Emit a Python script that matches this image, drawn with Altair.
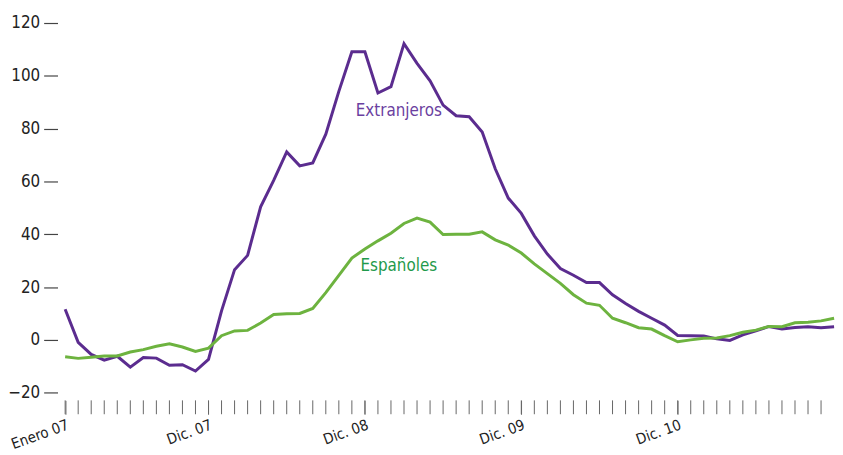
import altair as alt
import pandas as pd

# Monthly index: 0 = Enero 2007 ... 59 = Diciembre 2011
extranjeros = [11.6, -0.9, -5.5, -7.7, -6.2, -10.3, -6.7, -6.9, -9.6, -9.4,
               -11.8, -7.4, 11.0, 26.6, 32.0, 50.4, 60.4, 71.2, 65.9, 67.0,
               77.9, 94.1, 109.1, 109.1, 93.5, 95.9, 112.2, 104.7, 98.1, 88.9,
               84.9, 84.5, 78.7, 64.8, 53.7, 47.9, 39.4, 32.5, 27.0, 24.5,
               21.7, 21.7, 17.1, 13.8, 10.8, 8.2, 5.6, 1.7, 1.6, 1.5,
               0.4, -0.2, 1.9, 3.4, 5.1, 4.1, 4.7, 5.0, 4.6, 5.0]
espanoles = [-6.4, -7.0, -6.6, -6.1, -6.1, -4.6, -3.7, -2.4, -1.5, -2.7,
             -4.4, -3.1, 1.6, 3.4, 3.6, 6.4, 9.6, 9.9, 10.0, 11.9,
             17.9, 24.4, 31.0, 34.4, 37.5, 40.4, 44.1, 46.1, 44.6, 39.9,
             40.0, 40.0, 40.9, 37.9, 35.9, 32.9, 28.8, 25.1, 21.4, 17.1,
             13.9, 13.1, 8.2, 6.5, 4.6, 4.1, 1.6, -0.7, 0.0, 0.6,
             0.7, 1.6, 2.9, 3.7, 5.1, 5.0, 6.5, 6.7, 7.2, 8.2]

series_names = ["Extranjeros", "Españoles"]
series_colors = ["#5b2c8f", "#6db33f"]

tick_months = list(range(59))
label_months = [0, 11, 23, 35, 47]
label_texts = ["Enero 07", "Dic. 07", "Dic. 08", "Dic. 09", "Dic. 10"]

y_ticks = [-20, 0, 20, 40, 60, 80, 100, 120]

annot_text = ["Extranjeros", "Españoles"]
annot_month = [25.6, 25.6]
annot_value = [86.6, 28.1]
annot_colors = ["#6b3fa0", "#1f9a4b"]

FONT = "DejaVu Sans Condensed, DejaVu Sans, sans-serif"

PLOT_W = 785
PLOT_H = 381

rows = []
for name, vals in zip(series_names, [extranjeros, espanoles]):
    for i, v in enumerate(vals):
        rows.append({"m": i, "v": v, "serie": name})
df = pd.DataFrame(rows)

ann = pd.DataFrame({"t": annot_text, "m": annot_month, "v": annot_value})
ticks_df = pd.DataFrame({"m": tick_months})

expr = "''"
for m, t in reversed(list(zip(label_months, label_texts))):
    expr = f"datum.value == {m} ? '{t}' : ({expr})"

xscale = alt.Scale(domain=[-0.585, 59.07], nice=False, zero=False)
yscale = alt.Scale(domain=[-22.9, 120], nice=False, zero=False)

xaxis = alt.Axis(values=label_months, domain=False, grid=False, tickSize=14,
                 tickColor="#666666", tickWidth=1, labelExpr=expr,
                 labelAngle=-20, labelAlign="right", labelBaseline="top",
                 labelPadding=3, labelFontSize=15, labelColor="#222222",
                 labelOverlap=False, labelFlush=False, title=None)
yaxis = alt.Axis(values=y_ticks, domain=False, grid=False, tickSize=14,
                 tickColor="#444444", tickWidth=1.2, labelPadding=4,
                 labelFontSize=17, labelColor="#222222", title=None)

lines = alt.Chart(df).mark_line(strokeWidth=3).encode(
    x=alt.X("m:Q", scale=xscale, axis=xaxis),
    y=alt.Y("v:Q", scale=yscale, axis=yaxis),
    color=alt.Color("serie:N", scale=alt.Scale(domain=series_names, range=series_colors), legend=None),
)

month_ticks = alt.Chart(ticks_df).mark_rule(color="#666666", strokeWidth=1).encode(
    x=alt.X("m:Q", scale=xscale),
    y=alt.value(PLOT_H),
    y2=alt.value(PLOT_H + 14),
)

texts = alt.Chart(ann).mark_text(fontSize=17, font=FONT, align="center", baseline="middle").encode(
    x=alt.X("m:Q", scale=xscale),
    y=alt.Y("v:Q", scale=yscale),
    text="t:N",
    color=alt.Color("t:N", scale=alt.Scale(domain=annot_text, range=annot_colors), legend=None),
)

chart = alt.layer(lines, month_ticks, texts).resolve_scale(color="independent").properties(
    width=PLOT_W, height=PLOT_H,
    autosize=alt.AutoSizeParams(type="none"),
    padding={"left": 50, "top": 13, "right": 0, "bottom": 52},
).configure(font=FONT).configure_view(stroke=None).configure_axis(labelFont=FONT)

chart.save("out.html", embed_options={"renderer": "svg", "actions": False})
